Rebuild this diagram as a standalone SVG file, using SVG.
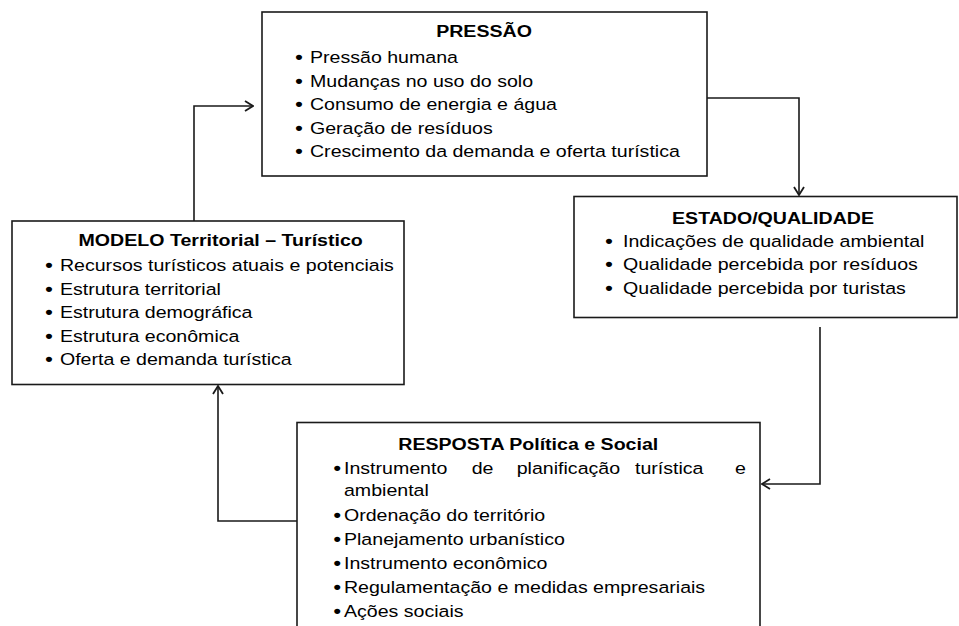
<svg xmlns="http://www.w3.org/2000/svg" width="959" height="626" viewBox="0 0 959 626">
<style>
.box{fill:#fff;stroke:#1a1a1a;stroke-width:1.6}
.conn{fill:none;stroke:#1a1a1a;stroke-width:1.6}
text{font-family:"Liberation Sans",Arial,sans-serif;font-size:16.6px;fill:#000}
.t{font-weight:bold;text-anchor:middle}
.b{text-anchor:middle;font-weight:bold;font-size:18px}
</style>
<defs>
<marker id="ah" viewBox="0 0 10 12" refX="9" refY="6" markerWidth="10" markerHeight="12" markerUnits="userSpaceOnUse" orient="auto">
<path d="M1,1 L9,6 L1,11" fill="none" stroke="#1a1a1a" stroke-width="1.8"/>
</marker>
</defs>
<rect width="959" height="626" fill="#fff"/>
<g id="connectors">
<path class="conn" d="M194,221 V106 H253" marker-end="url(#ah)"/>
<path class="conn" d="M707,98 H799 V195" marker-end="url(#ah)"/>
<path class="conn" d="M820,327 V484 H762" marker-end="url(#ah)"/>
<path class="conn" d="M297,521 H218 V386" marker-end="url(#ah)"/>
</g>
<g id="pressao">
<rect class="box" x="262" y="12" width="445" height="164"/>
<g transform="scale(1.18,1)">
<text class="t" x="410.2" y="37">PRESSÃO</text>
<text class="b" x="253.4" y="63.5">•</text><text x="262.7" y="63.5">Pressão humana</text>
<text class="b" x="253.4" y="87">•</text><text x="262.7" y="87">Mudanças no uso do solo</text>
<text class="b" x="253.4" y="110.5">•</text><text x="262.7" y="110.5">Consumo de energia e água</text>
<text class="b" x="253.4" y="134">•</text><text x="262.7" y="134">Geração de resíduos</text>
<text class="b" x="253.4" y="157.5">•</text><text x="262.7" y="157.5">Crescimento da demanda e oferta turística</text>
</g>
</g>
<g id="estado">
<rect class="box" x="574" y="196.5" width="383" height="121"/>
<g transform="scale(1.18,1)">
<text class="t" x="655.1" y="224">ESTADO/QUALIDADE</text>
<text class="b" x="516.1" y="247">•</text><text x="528" y="247">Indicações de qualidade ambiental</text>
<text class="b" x="516.1" y="270.5">•</text><text x="528" y="270.5">Qualidade percebida por resíduos</text>
<text class="b" x="516.1" y="294">•</text><text x="528" y="294">Qualidade percebida por turistas</text>
</g>
</g>
<g id="modelo">
<rect class="box" x="12" y="221" width="392" height="163.5"/>
<g transform="scale(1.18,1)">
<text class="t" x="187" y="246.5">MODELO Territorial – Turístico</text>
<text class="b" x="41.5" y="271.5">•</text><text x="50.8" y="271.5">Recursos turísticos atuais e potenciais</text>
<text class="b" x="41.5" y="295">•</text><text x="50.8" y="295">Estrutura territorial</text>
<text class="b" x="41.5" y="318.5">•</text><text x="50.8" y="318.5">Estrutura demográfica</text>
<text class="b" x="41.5" y="342">•</text><text x="50.8" y="342">Estrutura econômica</text>
<text class="b" x="41.5" y="365.5">•</text><text x="50.8" y="365.5">Oferta e demanda turística</text>
</g>
</g>
<g id="resposta">
<rect class="box" x="297" y="422.5" width="463" height="220"/>
<g transform="scale(1.18,1)">
<text class="t" x="447.7" y="450">RESPOSTA Política e Social</text>
<text class="b" x="285.7" y="474.5">•</text><text y="474.5"><tspan x="291.5">Instrumento</tspan><tspan x="399.7">de</tspan><tspan x="437.9">planificação</tspan><tspan x="538.1">turística</tspan><tspan x="622.9">e</tspan></text>
<text x="291.5" y="496">ambiental</text>
<text class="b" x="285.7" y="521">•</text><text x="291.5" y="521">Ordenação do território</text>
<text class="b" x="285.7" y="545.5">•</text><text x="291.5" y="545.5">Planejamento urbanístico</text>
<text class="b" x="285.7" y="569">•</text><text x="291.5" y="569">Instrumento econômico</text>
<text class="b" x="285.7" y="593">•</text><text x="291.5" y="593">Regulamentação e medidas empresariais</text>
<text class="b" x="285.7" y="617">•</text><text x="291.5" y="617">Ações sociais</text>
</g>
</g>
</svg>
